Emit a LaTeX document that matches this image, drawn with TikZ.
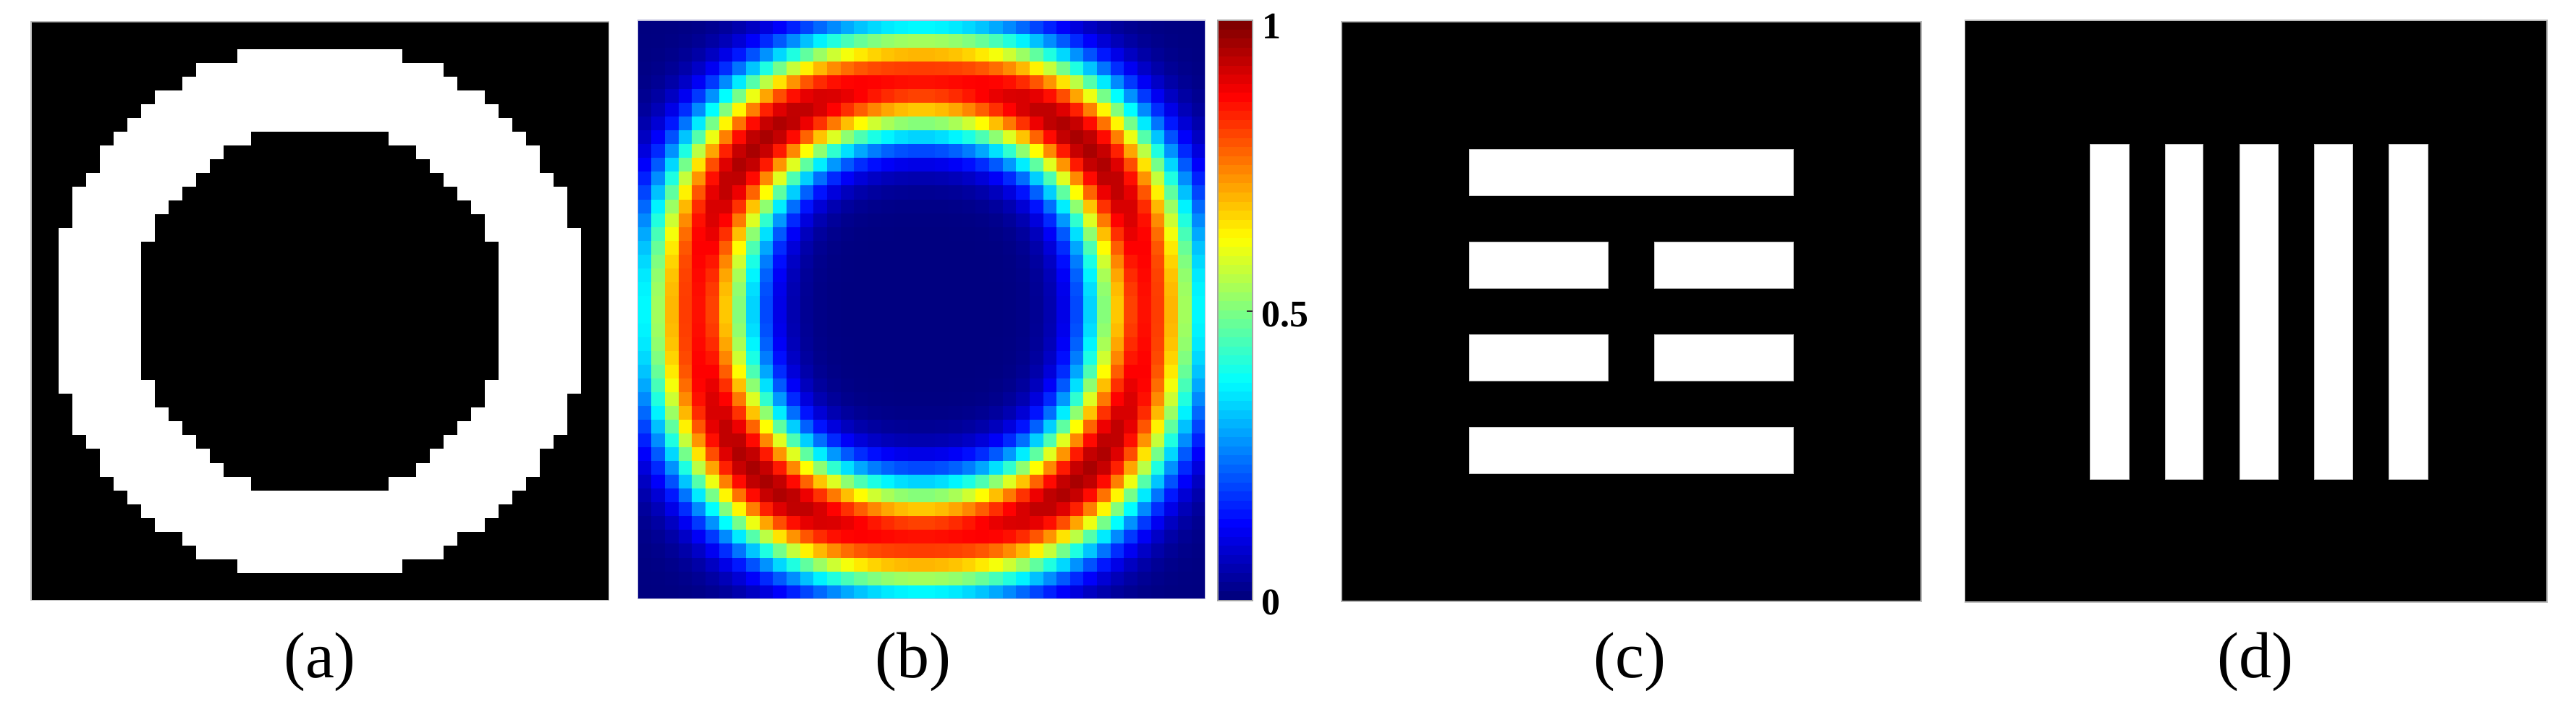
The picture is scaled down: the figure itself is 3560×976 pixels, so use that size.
\documentclass[tikz,border=0pt]{standalone}
\usepackage{fontspec}
\setmainfont{Liberation Serif}
\begin{document}
\begin{tikzpicture}[x=0.25pt,y=-0.25pt,
  panel/.style={fill=black,draw=gray!55,line width=0.3pt},
  whitebar/.style={fill=white,draw=gray!45,line width=0.25pt},
  lbl/.style={font=\fontsize{22.5}{27}\selectfont,anchor=base,inner sep=0pt},
  tk/.style={font=\bfseries\fontsize{13}{15}\selectfont,anchor=base west,inner sep=0pt}]
\useasboundingbox (0,0) rectangle (3560,976);
\fill[white] (0,0) rectangle (3560,976);

% ---------- (a) ----------
\fill[panel] (43,29.9) rectangle (841.5,829.5);
\begin{scope}[shift={(43,29.9)},x=4.753pt,y=-4.7595pt]
  \foreach \ya/\yb/\xa/\xb in {2/3/15/27,3/4/12/30,4/5/11/31,5/6/9/33,6/7/8/34,7/8/7/35,8/9/6/36,
     9/11/5/37,11/12/4/38,12/15/3/39,15/27/2/40,27/30/3/39,30/31/4/38,31/33/5/37,33/34/6/36,
     34/35/7/35,35/36/8/34,36/37/9/33,37/38/11/31,38/39/12/30,39/40/15/27}
    \fill[white] (\xa,\ya-0.02) rectangle (\xb,\yb+0.02);
  \foreach \ya/\yb/\xa/\xb in {8/9/16/26,9/10/14/28,10/11/13/29,11/12/12/30,12/13/11/31,13/14/10/32,
     14/16/9/33,16/26/8/34,26/28/9/33,28/29/10/32,29/30/11/31,30/31/12/30,31/32/13/29,32/33/14/28,33/34/16/26}
    \fill[black] (\xa,\ya-0.02) rectangle (\xb,\yb+0.02);
\end{scope}

% ---------- (b) heat map ----------
\begin{scope}[shift={(881.8,28)},x=4.664pt,y=-4.7595pt]
  \foreach \j in {0,...,41}{
    \foreach \i in {0,...,41}{
      \pgfmathsetmacro\xx{\i-20.5}
      \pgfmathsetmacro\yy{\j-20.5}
      \pgfmathsetmacro\rsq{(\xx)*(\xx)+(\yy)*(\yy)}
      \pgfmathsetmacro\rr{sqrt(\rsq)}
      \pgfmathsetmacro\qq{((\xx)*(\yy)/\rsq)*((\xx)*(\yy)/\rsq)}
      \pgfmathsetmacro\dd{\rr-16.5-2*\qq}
      \pgfmathsetmacro\ss{ifthenelse(\dd>0,19,16.8)}
      \pgfmathsetmacro\vv{(0.86+0.4*\qq)*exp(-(\dd)*(\dd)/\ss)}
      \pgfmathsetmacro\cR{max(0,min(1,1.5-abs(4*\vv-3)))}
      \pgfmathsetmacro\cG{max(0,min(1,1.5-abs(4*\vv-2)))}
      \pgfmathsetmacro\cB{max(0,min(1,1.5-abs(4*\vv-1)))}
      \definecolor{hm}{rgb}{\cR,\cG,\cB}
      \fill[hm] (\i,\j) rectangle (\i+1.04,\j+1.04);
    }
  }
\end{scope}
\draw[blue!30!gray!40,line width=0.3pt] (881.8,28) rectangle (1665.4,827.6);

% ---------- colour bar ----------
\foreach \k in {0,...,63}{
  \pgfmathsetmacro\vv{\k/63}
  \pgfmathsetmacro\cR{max(0,min(1,1.5-abs(4*\vv-3)))}
  \pgfmathsetmacro\cG{max(0,min(1,1.5-abs(4*\vv-2)))}
  \pgfmathsetmacro\cB{max(0,min(1,1.5-abs(4*\vv-1)))}
  \definecolor{cb}{rgb}{\cR,\cG,\cB}
  \pgfmathsetmacro\ya{829.5-(\k+1)*12.523-0.6}
  \pgfmathsetmacro\yb{829.5-\k*12.523}
  \fill[cb] (1683,\ya) rectangle (1731,\yb);
}
\draw[gray!70,line width=0.5pt] (1683,28) rectangle (1731,829.5);
\draw[black!80,line width=0.5pt] (1723,429.8) -- (1731,429.8);
\node[tk] (t1) at (1744,53) {1};
\node[tk] (t05) at (1743,451) {0.5};
\node[tk] (t0) at (1743,849) {0};

% ---------- (c) ----------
\fill[panel] (1854,30) rectangle (2655,831);
\fill[whitebar] (2030.2,206.2) rectangle (2478.8,270.3);
\fill[whitebar] (2030.2,334.4) rectangle (2222.5,398.5);
\fill[whitebar] (2286.5,334.4) rectangle (2478.8,398.5);
\fill[whitebar] (2030.2,462.5) rectangle (2222.5,526.6);
\fill[whitebar] (2286.5,462.5) rectangle (2478.8,526.6);
\fill[whitebar] (2030.2,590.7) rectangle (2478.8,654.8);

% ---------- (d) ----------
\fill[panel] (2715.4,28) rectangle (3520,832);
\foreach \xa/\xb in {2888.8/2942,2992.6/3044.8,3095.8/3148.6,3198.5/3251.3,3301.8/3355.1}
  \fill[whitebar] (\xa,199) rectangle (\xb,662.7);

% ---------- captions ----------
\node[lbl] (la) at (442,936) {(a)};
\node[lbl] (lb) at (1262,936) {(b)};
\node[lbl] (lc) at (2252,936) {(c)};
\node[lbl] (ld) at (3117,936) {(d)};
\end{tikzpicture}
\end{document}
